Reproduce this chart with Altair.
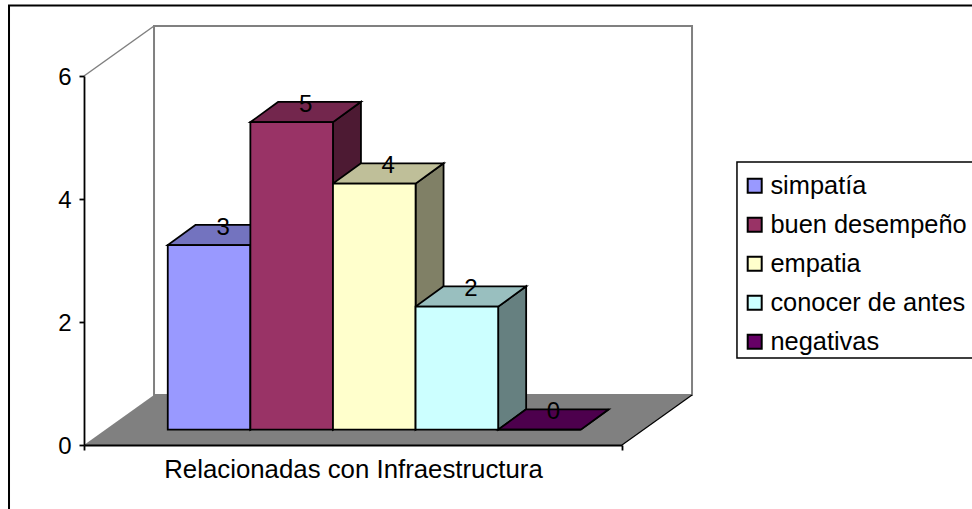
import altair as alt
import pandas as pd

# Series of the single category group
categories = ["simpatía", "buen desempeño", "empatia", "conocer de antes", "negativas"]
values = [3, 5, 4, 2, 0]
group_label = "Relacionadas con Infraestructura"
y_ticks = [0, 2, 4, 6]

# Face colours of each box
front_colors = ["#9999FF", "#993366", "#FFFFCC", "#CCFFFF", "#660066"]
top_colors = ["#7373BF", "#73264D", "#BFBF99", "#99BFBF", "#4D004D"]
side_colors = ["#4D4D80", "#4D1A33", "#808066", "#668080", "#330033"]

# Oblique projection, in axis units (one x unit is one nominal box width)
X_MAX, Y_MAX = 6.5, 6
FLOOR_DX, FLOOR_DY = 0.846, 0.813
BOX_DX, BOX_DY = 0.338, 0.33
BOX_X0, BOX_BASE = 1.012, 0.25
BOX_W = 0.998

FONT = "Liberation Sans"
NUMBER_SIZE = 24
TITLE_SIZE = 25.8
LEGEND_SIZE = 25.4
EDGE = 1.8
x_scale = alt.Scale(domain=[0, X_MAX], nice=False, zero=False)
y_scale = alt.Scale(domain=[0, Y_MAX], nice=False, zero=False)

# Every layer carries the same axis definitions so that they merge into one pair
x_axis = alt.Axis(
    values=[0, X_MAX], labels=False, ticks=True, tickSize=5, tickColor="black", tickWidth=EDGE,
    domainColor="black", domainWidth=EDGE, grid=False, title=group_label, titleFont=FONT,
    titleFontSize=TITLE_SIZE, titleFontWeight="normal", titleColor="black", titlePadding=7, zindex=1,
)
y_axis = alt.Axis(
    values=y_ticks, format="d", tickSize=5, tickColor="black", tickWidth=EDGE, domainColor="black",
    domainWidth=EDGE, grid=False, title=None, labelFont=FONT, labelFontSize=NUMBER_SIZE,
    labelColor="black", labelPadding=8, labelOffset=1, zindex=1,
)


def X(field="x"):
    return alt.X(f"{field}:Q", scale=x_scale, axis=x_axis)


def Y(field="y"):
    return alt.Y(f"{field}:Q", scale=y_scale, axis=y_axis)


fronts, tops, sides, labels = [], [], [], []
for i, (name, v) in enumerate(zip(categories, values)):
    x0 = BOX_X0 + i * BOX_W
    x1 = x0 + BOX_W
    top = BOX_BASE + v
    fronts.append({"name": name, "x": x0, "x2": x1, "y": BOX_BASE, "y2": top})
    tops += [
        {"id": i, "fill": top_colors[i], "y": top, "x": x0, "x2": x1},
        {"id": i, "fill": top_colors[i], "y": top + BOX_DY, "x": x0 + BOX_DX, "x2": x1 + BOX_DX},
    ]
    sides += [
        {"id": i, "fill": side_colors[i], "x": x1, "y": BOX_BASE, "y2": top},
        {"id": i, "fill": side_colors[i], "x": x1 + BOX_DX, "y": BOX_BASE + BOX_DY, "y2": top + BOX_DY},
    ]
    labels.append({"x": x0 + (BOX_W + BOX_DX) / 2, "y": top + BOX_DY, "label": str(v)})

# Outer chart border, running off the right and bottom of the page
frame = alt.Chart(pd.DataFrame([{"x": -0.906, "x2": 12, "y": 7.146, "y2": -3}])).mark_rect(
    fill="white", stroke="black", strokeWidth=2
).encode(x=X(), x2="x2:Q", y=Y(), y2="y2:Q")

# Box behind the legend entries, also running off the right of the page
legend_box = alt.Chart(pd.DataFrame([{"x": 7.889, "x2": 12, "y": 4.60, "y2": 1.415}])).mark_rect(
    fill="white", stroke="black", strokeWidth=1.5
).encode(x=X(), x2="x2:Q", y=Y(), y2="y2:Q")

back_wall = alt.Chart(pd.DataFrame([{
    "x": FLOOR_DX, "x2": X_MAX + FLOOR_DX, "y": FLOOR_DY, "y2": Y_MAX + FLOOR_DY
}])).mark_rect(fill="white", stroke="#808080", strokeWidth=2).encode(
    x=X(), x2="x2:Q", y=Y(), y2="y2:Q"
)

# Diagonal edge of the side wall
wall_edge = alt.Chart(pd.DataFrame([
    {"x": 0, "y": Y_MAX}, {"x": FLOOR_DX, "y": Y_MAX + FLOOR_DY}
])).mark_line(color="#808080", strokeWidth=1.5).encode(x=X(), y=Y())

floor = alt.Chart(pd.DataFrame([
    {"y": 0, "x": 0, "x2": X_MAX},
    {"y": FLOOR_DY, "x": FLOOR_DX, "x2": X_MAX + FLOOR_DX},
])).mark_area(orient="horizontal", color="#808080").encode(x=X(), x2="x2:Q", y=Y())

floor_edge = alt.Chart(pd.DataFrame([
    {"x": X_MAX, "y": 0}, {"x": X_MAX + FLOOR_DX, "y": FLOOR_DY}
])).mark_line(color="black", strokeWidth=1.2).encode(x=X(), y=Y())

no_scale = alt.Color("fill:N", scale=None)

side_faces = alt.Chart(pd.DataFrame(sides)).mark_area(
    stroke="black", strokeWidth=EDGE, opacity=1
).encode(x=X(), y=Y(), y2="y2:Q", detail="id:N", color=no_scale)

top_faces = alt.Chart(pd.DataFrame(tops)).mark_area(
    orient="horizontal", stroke="black", strokeWidth=EDGE, opacity=1
).encode(x=X(), x2="x2:Q", y=Y(), detail="id:N", color=no_scale)

front_faces = alt.Chart(pd.DataFrame(fronts)).mark_rect(
    stroke="black", strokeWidth=EDGE
).encode(
    x=X(), x2="x2:Q", y=Y(), y2="y2:Q",
    fill=alt.Fill(
        "name:N",
        scale=alt.Scale(domain=categories, range=front_colors),
        legend=alt.Legend(
            title=None, orient="none", legendX=658, legendY=97, padding=0,
            symbolType="square", symbolSize=196, symbolStrokeColor="black",
            symbolStrokeWidth=2, symbolOpacity=1, labelFont=FONT, labelFontSize=LEGEND_SIZE,
            labelColor="black", labelOffset=3, rowPadding=12, labelLimit=300,
            values=categories,
        ),
    ),
)

value_labels = alt.Chart(pd.DataFrame(labels)).mark_text(
    font=FONT, fontSize=NUMBER_SIZE, color="black", baseline="middle", align="center", dy=3
).encode(x=X(), y=Y(), text="label:N")

chart = alt.layer(
    frame, legend_box, back_wall, wall_edge, floor, floor_edge,
    side_faces, top_faces, front_faces, value_labels
).properties(
    width=538, height=369, background="white",
    padding={"left": 84, "top": 76, "right": 350, "bottom": 64},
    autosize=alt.AutoSizeParams(type="none"),
).configure_view(stroke=None)

chart.save("out.html", embed_options={"renderer": "svg", "actions": False})
